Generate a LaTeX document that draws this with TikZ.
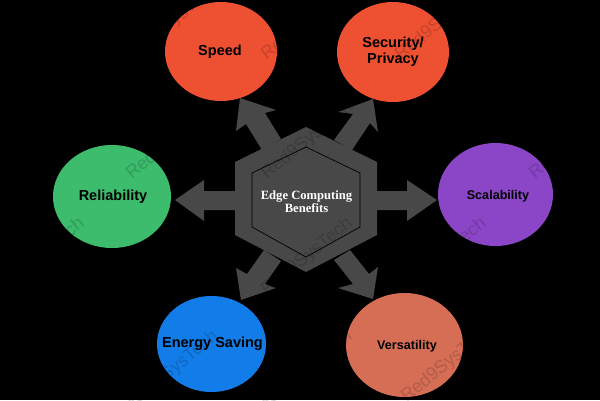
\documentclass[tikz,border=0pt]{standalone}
\usepackage{fontspec}
\setmainfont{Liberation Serif}
\setsansfont{Liberation Sans}
\definecolor{blockgrey}{RGB}{72,72,72}
\definecolor{redorange}{RGB}{238,80,50}
\definecolor{leafgreen}{RGB}{60,188,108}
\definecolor{violet}{RGB}{138,70,198}
\definecolor{brightblue}{RGB}{18,125,232}
\definecolor{terracotta}{RGB}{214,110,86}
\tikzset{
  x=1pt,y=-1pt,
  block/.style={fill=blockgrey,draw=none},
  bubblelabel/.style={align=center,inner sep=0pt,text=black},
  big/.style={font=\sffamily\bfseries\fontsize{14.5}{16}\selectfont},
  small/.style={font=\sffamily\bfseries\fontsize{12.6}{14}\selectfont},
  wm/.style={rotate=39,font=\sffamily\fontsize{18}{18}\selectfont,text=black,text opacity=.16}
}
\begin{document}
\begin{tikzpicture}
\fill[black] (0,0) rectangle (600,400);
\useasboundingbox (0,0) rectangle (600,400);
% arrows
\fill[block] (377,191) -- (407,191) -- (407,180) -- (437,200) -- (407,221) -- (407,210) -- (377,210) -- cycle;
\fill[block] (235,191) -- (204,191) -- (204,180) -- (175,200) -- (204,221) -- (204,210) -- (235,210) -- cycle;
\fill[block] (262,150) -- (246,124) -- (236,131) -- (240,98) -- (276,110) -- (265,113) -- (281,139) -- cycle;
\fill[block] (334,140) -- (353,114) -- (338,112) -- (373,99) -- (378,132) -- (370,123) -- (352,150) -- cycle;
\fill[block] (264,250) -- (247,274) -- (236,268) -- (241,300) -- (276,288) -- (265,284) -- (281,261) -- cycle;
\fill[block] (334,260) -- (353,284) -- (338,288) -- (373,299) -- (378,267) -- (369,274) -- (350,250) -- cycle;
% hexagons
\fill[block] (306,127) -- (377,162) -- (377,235) -- (306,272) -- (235,235) -- (235,162) -- cycle;
\draw[black,line width=.7pt] (306,147) -- (360,173) -- (360,227) -- (306,257) -- (252,227) -- (252,173) -- cycle;
\node[align=center,inner sep=0pt,text=white,font=\bfseries\fontsize{12.6}{13}\selectfont] (hub) at (306.5,201.5) {Edge Computing\\Benefits};
% circles
\fill[redorange] (221,51.5) ellipse [x radius=56,y radius=49.5];
\fill[redorange] (393,52) ellipse [x radius=56,y radius=50];
\fill[leafgreen] (112,196.5) ellipse [x radius=59,y radius=51.5];
\fill[violet] (495.5,194.5) ellipse [x radius=57.5,y radius=51.5];
\fill[brightblue] (211.5,344) ellipse [x radius=54.5,y radius=48];
\fill[terracotta] (404.5,345) ellipse [x radius=58.5,y radius=52];
\node[bubblelabel,big] (speed) at (220,52) {Speed};
\node[bubblelabel,big] (security) at (393,52) {Security/\\Privacy};
\node[bubblelabel,big] (reliability) at (113,197) {Reliability};
\node[bubblelabel,small] (scalability) at (498,196) {Scalability};
\node[bubblelabel,big] (energy) at (212.5,344) {Energy Saving};
\node[bubblelabel,small] (versatility) at (407,346) {Versatility};
% watermark
\node[wm] (w01) at (173,22) {Red9SysTech};
\node[wm] (w02) at (307,22) {Red9SysTech};
\node[wm] (w03) at (441,22) {Red9SysTech};
\node[wm] (w11) at (172,141) {Red9SysTech};
\node[wm] (w12) at (307,141) {Red9SysTech};
\node[wm] (w14) at (575,141) {Red9SysTech};
\node[wm] (w20) at (39,257) {Red9SysTech};
\node[wm] (w22) at (307,257) {Red9SysTech};
\node[wm] (w23) at (441,257) {Red9SysTech};
\node[wm] (w31) at (173,370) {Red9SysTech};
\node[wm] (w32) at (307,370) {Red9SysTech};
\node[wm] (w33) at (447,364) {Red9SysTech};
\end{tikzpicture}
\end{document}
